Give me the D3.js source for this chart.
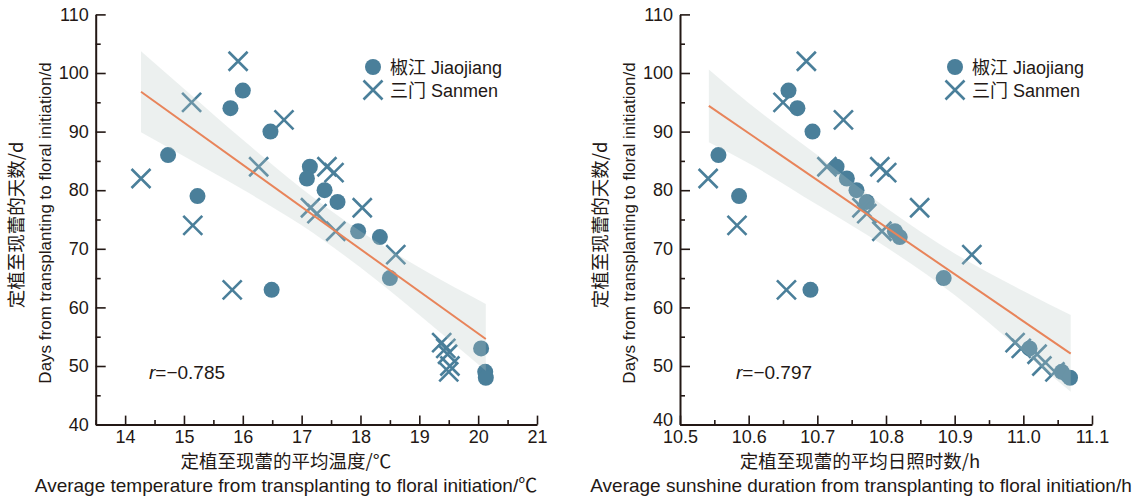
<!DOCTYPE html>
<html>
<head>
<meta charset="utf-8">
<script src="https://cdn.jsdelivr.net/npm/d3@7"></script>
<style>
  body { margin: 0; background: #fff; }
  text { font-family: "Liberation Sans", Arial, "Noto Sans CJK SC", sans-serif; fill: #231815; }
</style>
</head>
<body>
<svg id="chart" width="1134" height="496"></svg>
<script>
// 椒江 Jiaojiang
const jjTemp = [16.0, 15.79, 16.47, 14.73, 17.14, 17.09, 17.39, 15.23, 17.61, 17.96, 18.33, 18.5, 16.49, 20.05, 20.12, 20.13];
const jjSun  = [10.658, 10.671, 10.693, 10.556, 10.728, 10.743, 10.757, 10.586, 10.772, 10.813, 10.820, 10.884, 10.690, 11.009, 11.056, 11.068];
const jjDays = [97, 94, 90, 86, 84, 82, 80, 79, 78, 73, 72, 65, 63, 53, 49, 48];

// 三门 Sanmen
const smTemp = [15.92, 15.13, 16.70, 16.27, 17.43, 17.55, 14.27, 18.03, 17.15, 17.26, 15.15, 17.58, 18.6, 15.82, 19.38, 19.45, 19.48, 19.52, 19.50];
const smSun  = [10.684, 10.650, 10.738, 10.714, 10.791, 10.801, 10.541, 10.849, 10.765, 10.772, 10.583, 10.794, 10.925, 10.655, 10.988, 10.997, 11.02, 11.027, 11.046];
const smDays = [102, 95, 92, 84, 84, 83, 82, 77, 77, 76, 74, 73, 69, 63, 54, 53, 52, 50, 49];

// ticks
const dayTicks = [40, 50, 60, 70, 80, 90, 100, 110];
const dayMinor = [45, 55, 65, 75, 85, 95, 105];
const tempTicks = [14, 15, 16, 17, 18, 19, 20, 21];
const tempMinor = [13.5, 14.5, 15.5, 16.5, 17.5, 18.5, 19.5, 20.5];
const sunTicks = [10.5, 10.6, 10.7, 10.8, 10.9, 11.0, 11.1];
const sunMinor = [10.55, 10.65, 10.75, 10.85, 10.95, 11.05];

// fitted lines and confidence bands
const tempFitX = [14.27, 20.13];
const tempFitY = [96.8, 54.6];
const tempBandX  = [14.27, 15, 16, 17, 18, 19, 20.13];
const tempBandHi = [103.7, 97.3, 88.6, 80.3, 73.0, 66.8, 60.6];
const tempBandLo = [89.9, 85.8, 80.1, 74.0, 66.8, 58.7, 49.2];

const sunFitX = [10.542, 11.069];
const sunFitY = [94.4, 52.1];
const sunBandX  = [10.542, 10.6, 10.7, 10.8, 10.9, 11.0, 11.069];
const sunBandHi = [100.6, 94.9, 86.0, 77.0, 69.2, 62.8, 58.7];
const sunBandLo = [88.2, 84.6, 77.5, 70.3, 62.1, 52.4, 45.6];

const markColor = "#4a7f9a";
const lineColor = "#e8845a";
const inkColor = "#231815";

const svg = d3.select("#chart");

function drawPanel(p) {
    const g = svg.append("g");

    const x = d3.scaleLinear().domain(p.xDomain).range([p.left, p.right]);
    const y = d3.scaleLinear().domain([40, 110]).range([424.6, 14.4]);

    // points first, band sits on top and washes them out
    g.selectAll(".jj")
        .data(p.jjX.map((d, i) => [d, jjDays[i]]))
        .join("circle")
        .attr("class", "jj")
        .attr("cx", d => x(d[0]))
        .attr("cy", d => y(d[1]))
        .attr("r", 8)
        .attr("fill", markColor);

    const cross = 9.5;
    const crossPath = (cx, cy) => `M${cx - cross},${cy - cross}L${cx + cross},${cy + cross}M${cx - cross},${cy + cross}L${cx + cross},${cy - cross}`;

    g.selectAll(".sm")
        .data(p.smX.map((d, i) => [d, smDays[i]]))
        .join("path")
        .attr("class", "sm")
        .attr("d", d => crossPath(x(d[0]), y(d[1])))
        .attr("stroke", markColor)
        .attr("stroke-width", 2.6)
        .attr("fill", "none");

    const band = d3.area()
        .x(d => x(d[0]))
        .y0(d => y(d[2]))
        .y1(d => y(d[1]))
        .curve(d3.curveMonotoneX);

    g.append("path")
        .datum(p.bandX.map((d, i) => [d, p.bandHi[i], p.bandLo[i]]))
        .attr("d", band)
        .attr("fill", "#bcc8c4")
        .attr("opacity", 0.28);

    g.append("path")
        .datum(p.fitX.map((d, i) => [d, p.fitY[i]]))
        .attr("d", d3.line().x(d => x(d[0])).y(d => y(d[1])))
        .attr("stroke", lineColor)
        .attr("stroke-width", 2)
        .attr("fill", "none");

    // axes
    const yAxis = g.append("g")
        .attr("transform", `translate(${p.left},0)`)
        .call(d3.axisLeft(y).tickValues(dayTicks).tickSizeInner(-10).tickSizeOuter(0).tickPadding(7));
    g.append("g")
        .attr("transform", `translate(${p.left},0)`)
        .call(d3.axisLeft(y).tickValues(dayMinor).tickSizeInner(-5).tickSizeOuter(0).tickFormat(""))
        .select(".domain").remove();

    g.append("g")
        .attr("transform", "translate(0,424.6)")
        .call(d3.axisBottom(x).tickValues(p.xTicks).tickFormat(p.xFormat).tickSizeInner(-9).tickSizeOuter(0).tickPadding(6));
    g.append("g")
        .attr("transform", "translate(0,424.6)")
        .call(d3.axisBottom(x).tickValues(p.xMinor).tickSizeInner(-4.5).tickSizeOuter(0).tickFormat(""))
        .select(".domain").remove();

    g.selectAll(".domain").attr("stroke", inkColor).attr("stroke-width", 2);
    g.selectAll(".tick line").attr("stroke", inkColor).attr("stroke-width", 1.6);
    g.selectAll(".tick text")
        .attr("fill", inkColor)
        .style("font-size", "18px")
        .style("font-family", "Liberation Sans, Arial, sans-serif");

    // the "40" sits right on top of the first x label, lift it a touch
    if (p.liftBottom) {
        yAxis.selectAll(".tick text").filter(d => d === 40).attr("dy", "0.05em");
    }

    // axis titles
    const yTitleX = p.left - 73;
    g.append("text")
        .attr("transform", `translate(${yTitleX},225) rotate(-90)`)
        .attr("text-anchor", "middle")
        .style("font-size", "18.5px")
        .style("font-family", "Noto Sans CJK SC")
        .text("定植至现蕾的天数/d");
    g.append("text")
        .attr("transform", `translate(${yTitleX + 28},223) rotate(-90)`)
        .attr("text-anchor", "middle")
        .style("font-size", "17px")
        .text("Days from transplanting to floral initiation/d");

    g.append("text")
        .attr("x", p.cnX)
        .attr("y", 468)
        .attr("text-anchor", "middle")
        .style("font-size", "18.5px")
        .style("font-family", "Noto Sans CJK SC")
        .text(p.cnTitle);
    g.append("text")
        .attr("x", p.enX)
        .attr("y", 492)
        .attr("text-anchor", "middle")
        .style("font-size", "19px")
        .text(p.enTitle);

    // legend
    const lx = p.legendX;
    g.append("circle").attr("cx", lx).attr("cy", 67).attr("r", 8).attr("fill", markColor);
    g.append("path").attr("d", crossPath(lx, 90)).attr("stroke", markColor).attr("stroke-width", 2.6);
    g.append("text").attr("x", lx + 17).attr("y", 74).style("font-size", "18px").text("椒江 Jiaojiang");
    g.append("text").attr("x", lx + 17).attr("y", 97).style("font-size", "18px").text("三门 Sanmen");

    // correlation
    const rt = g.append("text")
        .attr("x", p.rX)
        .attr("y", 379)
        .style("font-size", "19px");
    rt.append("tspan").style("font-style", "italic").text("r");
    rt.append("tspan").text("=−" + p.r);
}

drawPanel({
    xDomain: [13.5, 21], left: 95.7, right: 537,
    xTicks: tempTicks, xMinor: tempMinor, xFormat: d3.format("d"),
    jjX: jjTemp, smX: smTemp,
    fitX: tempFitX, fitY: tempFitY,
    bandX: tempBandX, bandHi: tempBandHi, bandLo: tempBandLo,
    cnTitle: "定植至现蕾的平均温度/℃", cnX: 286,
    enTitle: "Average temperature from transplanting to floral initiation/℃", enX: 286,
    legendX: 373, rX: 149, r: "0.785", liftBottom: false
});

drawPanel({
    xDomain: [10.5, 11.1], left: 680, right: 1092,
    xTicks: sunTicks, xMinor: sunMinor, xFormat: d3.format(".1f"),
    jjX: jjSun, smX: smSun,
    fitX: sunFitX, fitY: sunFitY,
    bandX: sunBandX, bandHi: sunBandHi, bandLo: sunBandLo,
    cnTitle: "定植至现蕾的平均日照时数/h", cnX: 860,
    enTitle: "Average sunshine duration from transplanting to floral initiation/h", enX: 861,
    legendX: 955, rX: 736, r: "0.797", liftBottom: true
});
</script>
</body>
</html>
